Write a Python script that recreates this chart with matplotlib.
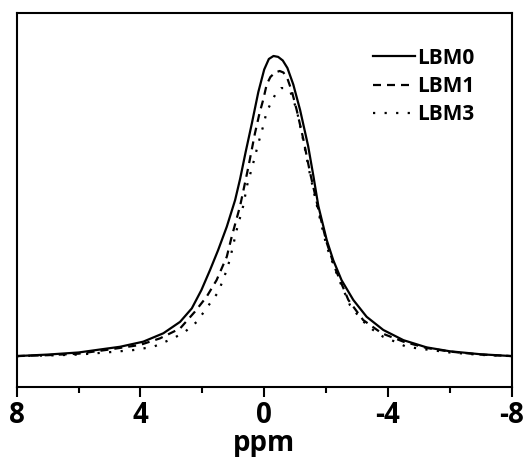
import matplotlib
matplotlib.use('Agg')
import matplotlib.pyplot as plt

# values (ppm, normalized intensity)
lbm0_ppm = [8.0, 7.0, 6.0, 5.3, 4.66, 3.91, 3.26, 2.72, 2.34, 2.03, 1.75, 1.49, 1.21, 0.94, 0.78, 0.60, 0.40,
            0.19, 0.0, -0.15, -0.3, -0.45, -0.6, -0.75, -0.94, -1.16, -1.42, -1.59, -1.75, -2.02, -2.23, -2.50,
            -2.88, -3.31, -3.85, -4.50, -5.25, -6.0, -7.0, -8.0]
lbm0_int = [0.0, 0.005, 0.012, 0.022, 0.031, 0.048, 0.076, 0.114, 0.159, 0.22, 0.287, 0.353, 0.431, 0.52, 0.59, 0.68, 0.775,
            0.88, 0.955, 0.99, 1.0, 0.997, 0.985, 0.96, 0.905, 0.82, 0.70, 0.60, 0.50, 0.387, 0.32, 0.253,
            0.187, 0.131, 0.087, 0.053, 0.029, 0.016, 0.006, 0.0]

lbm1_ppm = [8.0, 7.0, 6.0, 5.0, 4.02, 3.37, 2.72, 2.24, 1.86, 1.54, 1.21, 1.05, 0.78, 0.51, 0.30, 0.15, 0.03,
            -0.08, -0.2, -0.35, -0.5, -0.62, -0.75, -0.9, -1.05, -1.26, -1.48, -1.75, -2.02, -2.3, -2.72, -3.2,
            -3.8, -4.5, -5.25, -6.0, -7.0, -8.0]
lbm1_int = [0.0, 0.003, 0.008, 0.022, 0.037, 0.059, 0.092, 0.148, 0.198, 0.253, 0.331, 0.398, 0.50, 0.631, 0.742, 0.81, 0.855,
            0.905, 0.93, 0.945, 0.95, 0.945, 0.925, 0.88, 0.82, 0.725, 0.612, 0.49, 0.378, 0.29, 0.187, 0.12,
            0.076, 0.048, 0.027, 0.015, 0.005, 0.0]

lbm3_ppm = [8.0, 7.0, 6.0, 5.0, 4.23, 3.58, 2.94, 2.56, 2.18, 1.75, 1.48, 1.21, 1.10, 0.89, 0.68, 0.55, 0.37,
            0.19, 0.05, -0.08, -0.24, -0.40, -0.55, -0.7, -0.85, -1.05, -1.26, -1.48, -1.75, -2.02, -2.40, -2.77,
            -3.15, -3.52, -3.85, -4.23, -4.55, -4.93, -6.0, -7.0, -8.0]
lbm3_int = [0.0, 0.002, 0.005, 0.013, 0.02, 0.031, 0.059, 0.081, 0.114, 0.176, 0.214, 0.287, 0.326, 0.42, 0.50, 0.57, 0.637,
            0.709, 0.76, 0.814, 0.848, 0.88, 0.893, 0.893, 0.88, 0.82, 0.72, 0.605, 0.48, 0.365, 0.259, 0.17,
            0.12, 0.087, 0.064, 0.048, 0.033, 0.026, 0.012, 0.004, 0.0]

labels = ['LBM0', 'LBM1', 'LBM3']
x_ticks = [8, 4, 0, -4, -8]
x_minor = [6, 2, -2, -6]

plt.rcParams['font.family'] = ['Open Sans', 'DejaVu Sans']
plt.rcParams['font.weight'] = 'bold'

fig = plt.figure(figsize=(5.29, 4.57), dpi=100)
ax = fig.add_axes([0.0316, 0.153, 0.9357, 0.8186])

ax.plot(lbm0_ppm, lbm0_int, color='black', lw=1.6, ls='-', label=labels[0])
ax.plot(lbm1_ppm, lbm1_int, color='black', lw=1.6, ls=(0, (3.6, 2.7)), label=labels[1])
ax.plot(lbm3_ppm, lbm3_int, color='black', lw=1.6, ls=(0, (1, 4.2)), label=labels[2])

ax.set_xlim(8, -8)
ax.set_ylim(-0.1033, 1.1433)
ax.set_xticks(x_ticks)
ax.set_xticklabels([str(t) for t in x_ticks], fontsize=20, fontweight='bold')
ax.set_xticks(x_minor, minor=True)
ax.set_yticks([])
ax.tick_params(axis='x', which='major', direction='out', length=7, width=1.5, pad=3)
ax.tick_params(axis='x', which='minor', direction='out', length=4, width=1.5)
for sp in ax.spines.values():
    sp.set_linewidth(1.5)

ax.set_xlabel('ppm', fontsize=20, fontweight='bold', labelpad=-1)

leg = ax.legend(loc='upper left', bbox_to_anchor=(0.72, 0.907), frameon=False,
                prop={'size': 15, 'weight': 'bold'}, handlelength=2.0, handletextpad=0.1,
                labelspacing=0.35, borderpad=0, borderaxespad=0)

fig.savefig('out.png', dpi=100)
